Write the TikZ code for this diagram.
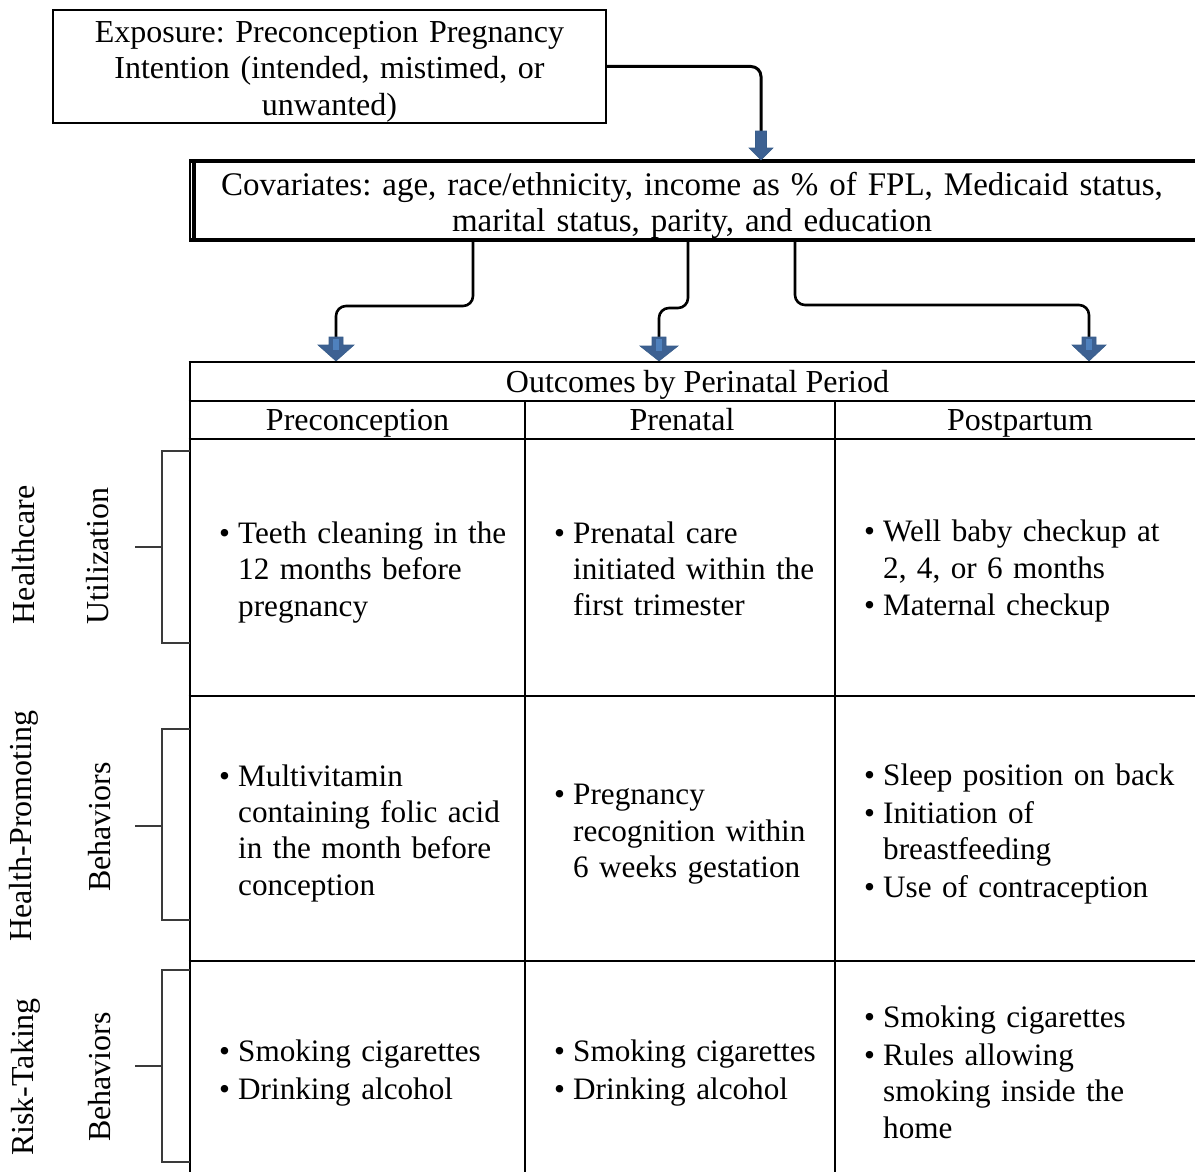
\documentclass[tikz,border=0pt]{standalone}
\usepackage{fontspec}
\setmainfont{Liberation Serif}
\usetikzlibrary{calc}
\definecolor{arrfill}{HTML}{3D6192}
\definecolor{arrline}{HTML}{385D8A}
\definecolor{arrhi}{HTML}{4F81BD}
\definecolor{brk}{HTML}{3A3A3A}
\setlength{\parskip}{0pt}
\frenchspacing
\newcommand\bitem[1]{\par\hangindent=19pt\hangafter=1\noindent\makebox[19pt][l]{\textbullet}#1\par}
\newcommand\bgap{\vspace{1.5pt}}
% #1 x, #2 tip y, #3 length, #4 shaft half width, #5 head half width, #6 head length
\newcommand\blockarr[6]{%
  \filldraw[blockarr] (#1-#4,#2-#3) -- (#1+#4,#2-#3) -- (#1+#4,#2-#6) -- (#1+#5,#2-#6)
    -- (#1,#2) -- (#1-#5,#2-#6) -- (#1-#4,#2-#6) -- cycle;}
\newcommand\blockhi[3]{%
  \fill[arrhi] (#1-3,#2+2) rectangle (#1+3,#3);}
\tikzset{
  txt/.style={inner sep=0pt, font=\fontsize{32}{36.5}\selectfont},
  expbox/.style={draw, line width=1.6pt, minimum width=553pt, minimum height=113pt, inner sep=0pt},
  exptext/.style={txt, text width=540pt, align=center},
  covbox/.style={inner sep=0pt, font=\fontsize{33}{36}\selectfont, minimum width=997pt,
     minimum height=78pt, text width=990pt, align=center},
  conn/.style={line width=2.6pt, rounded corners=10pt},
  tline/.style={line width=2.7pt},
  brkline/.style={line width=2pt, draw=brk},
  cell/.style={inner sep=0pt, font=\fontsize{31.2}{36.3}\selectfont, anchor=west,
     text width=330pt, align=left},
  hdr/.style={txt, anchor=base},
  sidelab/.style={txt, rotate=90},
  blockarr/.style={fill=arrfill, draw=arrline, line width=0.6pt},
}
\begin{document}
\begin{tikzpicture}[x=1pt, y=-1pt]
\useasboundingbox (0,0) rectangle (1195,1172);
% exposure
\node[expbox] (expo) at (329.5,66.5) {};
\node[exptext] (expotxt) at ([yshift=-5pt]expo.center) {Exposure: Preconception Pregnancy\\Intention (intended, mistimed, or\\unwanted)};
% covariates
\node[covbox] (cov) at (692,205) {Covariates: age, race/ethnicity, income as \% of FPL, Medicaid status,\\marital status, parity, and education};
\draw[line width=4pt] (189,161.3) -- (1200,161.3);
\draw[line width=4pt] (189,239.7) -- (1200,239.7);
\draw[line width=2pt] (189.8,159.3) -- (189.8,241.7);
\draw[line width=3.5pt] (193.8,159.3) -- (193.8,241.7);
% connector exposure -> covariates
\coordinate (t0) at (761,131);
\draw[conn, line width=3pt] (expo.east) -| (t0);
\blockarr{761}{160}{29}{5.5}{12}{12}
% connectors covariates -> outcomes
\coordinate (s1) at (473,240);
\coordinate (s2) at (688,240);
\coordinate (s3) at (795,240);
\coordinate (e1) at (336,338);
\coordinate (e2) at (659,338);
\coordinate (e3) at (1089,338);
\draw[conn] (s1) -- (473,306) -- (336,306) -- (e1);
\draw[conn] (s2) -- (688,308) -- (659,308) -- (e2);
\draw[conn] (s3) -- (795,305) -- (1089,305) -- (e3);
\blockarr{336}{361}{24}{7}{18}{16}
\blockarr{659}{361}{24}{7}{19}{15}
\blockarr{1089}{361}{24}{7}{17}{16}
\blockhi{336}{337}{350}
\blockhi{659}{337}{351}
\blockhi{1089}{337}{350}
% table lines
\draw[tline] (190,360.8) -- (190,1175);
\draw[tline] (188.7,362) -- (1200,362);
\draw[tline] (188.7,401) -- (1200,401);
\draw[tline] (188.7,439) -- (1200,439);
\draw[tline] (188.7,696) -- (1200,696);
\draw[tline] (188.7,961) -- (1200,961);
\draw[tline] (525,401) -- (525,1175);
\draw[tline] (835,401) -- (835,1175);
% headers
\node[hdr] (hdr) at (697.5,392) {Outcomes by Perinatal Period};
\node[hdr] (h1) at (357.5,430) {Preconception};
\node[hdr] (h2) at (682,430) {Prenatal};
\node[hdr] (h3) at (1020,430) {Postpartum};
% cells
\node[cell] (c11) at (219,565) {\bitem{Teeth cleaning in the\newline 12 months before\newline pregnancy}};
\node[cell] (c12) at (554,561.5) {\bitem{Prenatal care\newline initiated within the\newline first trimester}};
\node[cell] (c13) at (864,564) {\bitem{Well baby checkup at\newline 2, 4, or 6 months}\bgap\bitem{Maternal checkup}};
\node[cell] (c21) at (219,826) {\bitem{Multivitamin\newline containing folic acid\newline in the month before\newline conception}};
\node[cell] (c22) at (554,826.5) {\bitem{Pregnancy\newline recognition within\newline 6 weeks gestation}};
\node[cell] (c23) at (864,826.5) {\bitem{Sleep position on back}\bgap\bitem{Initiation of\newline breastfeeding}\bgap\bitem{Use of contraception}};
\node[cell] (c31) at (219,1066) {\bitem{Smoking cigarettes}\bgap\bitem{Drinking alcohol}};
\node[cell] (c32) at (554,1066) {\bitem{Smoking cigarettes}\bgap\bitem{Drinking alcohol}};
\node[cell] (c33) at (864,1065) {\bitem{Smoking cigarettes}\bgap\bitem{Rules allowing\newline smoking inside the\newline home}};
% side labels
\node[sidelab] (l1a) at (24,555) {Healthcare};
\node[sidelab] (l1b) at (98,556) {Utilization};
\node[sidelab] (l2a) at (24,826) {Health-Promoting};
\node[sidelab] (l2b) at (100,827) {Behaviors};
\node[sidelab] (l3a) at (26,1077) {Risk-Taking};
\node[sidelab] (l3b) at (100,1077) {Behaviors};
% brackets
\draw[brkline] (190,451) -- (162,451) -- (162,643) -- (190,643);
\draw[brkline] (135,547) -- (162,547);
\draw[brkline] (190,729) -- (162,729) -- (162,920) -- (190,920);
\draw[brkline] (135,826) -- (162,826);
\draw[brkline] (190,970) -- (162,970) -- (162,1162) -- (190,1162);
\draw[brkline] (135,1066) -- (162,1066);
\end{tikzpicture}
\end{document}
